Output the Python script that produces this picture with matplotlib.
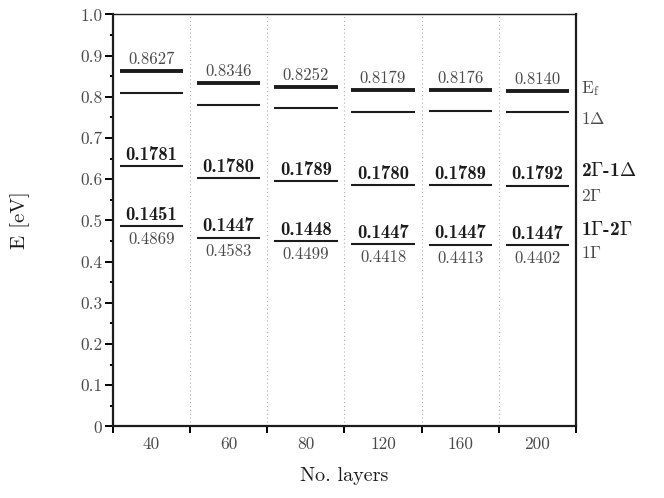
import numpy as np
import matplotlib
matplotlib.use("Agg")
import matplotlib.pyplot as plt
from matplotlib.ticker import MultipleLocator, FuncFormatter
import matplotlib.transforms as mtransforms

# --- data ---
layers = ["40", "60", "80", "120", "160", "200"]
e_fermi = [0.8627, 0.8346, 0.8252, 0.8179, 0.8176, 0.8140]
e_1delta = [0.8101, 0.7810, 0.7736, 0.7645, 0.7649, 0.7641]
e_2gamma = [0.6320, 0.6030, 0.5947, 0.5865, 0.5860, 0.5849]
e_1gamma = [0.4869, 0.4583, 0.4499, 0.4418, 0.4413, 0.4402]
gap_2g_1d = [0.1781, 0.1780, 0.1789, 0.1780, 0.1789, 0.1792]
gap_1g_2g = [0.1451, 0.1447, 0.1448, 0.1447, 0.1447, 0.1447]

# right-hand level names and where their baselines sit (data units)
side_names = [r"E$_\mathrm{f}$", r"1$\Delta$", r"2$\Gamma$-1$\Delta$", r"2$\Gamma$", r"1$\Gamma$-2$\Gamma$", r"1$\Gamma$"]
side_y = [0.809, 0.734, 0.608, 0.548, 0.465, 0.408]
side_bold = [False, False, True, False, True, False]

plt.rcParams["font.family"] = "serif"
plt.rcParams["font.serif"] = ["cmr10"]
plt.rcParams["mathtext.fontset"] = "cm"
plt.rcParams["axes.unicode_minus"] = False
plt.rcParams["axes.formatter.use_mathtext"] = True

line_col = "#1c1c1c"
grey_txt = "#4a4a4a"
dark_txt = "#1c1c1c"

fig = plt.figure(figsize=(6.64, 4.98), dpi=100)
ax = fig.add_axes([0.170, 0.1436, 0.6975, 0.8273])

half = 0.41
for i in range(len(layers)):
    c = i + 0.5
    ax.hlines(e_fermi[i], c - half, c + half, color=line_col, lw=2.8)
    ax.hlines([e_1delta[i], e_2gamma[i], e_1gamma[i]], c - half, c + half, color=line_col, lw=1.5)
    ax.annotate(f"{e_fermi[i]:.4f}", (c, e_fermi[i]), xytext=(0, 5), textcoords="offset points",
                ha="center", va="baseline", fontsize=12, color=grey_txt)
    ax.annotate(f"{gap_2g_1d[i]:.4f}", (c, e_2gamma[i]), xytext=(0, 4.5), textcoords="offset points",
                ha="center", va="baseline", fontsize=13.5, color=dark_txt, family="cmb10")
    ax.annotate(f"{gap_1g_2g[i]:.4f}", (c, e_1gamma[i]), xytext=(0, 4.5), textcoords="offset points",
                ha="center", va="baseline", fontsize=13.5, color=dark_txt, family="cmb10")
    ax.annotate(f"{e_1gamma[i]:.4f}", (c, e_1gamma[i]), xytext=(0, -4), textcoords="offset points",
                ha="center", va="top", fontsize=12, color=grey_txt)

# level names on the right of the frame
trans = mtransforms.blended_transform_factory(ax.transAxes, ax.transData)
for name, y, bold in zip(side_names, side_y, side_bold):
    ax.text(1.011, y, name, transform=trans, ha="left", va="baseline",
            fontsize=14 if bold else 12.5,
            color=dark_txt if bold else grey_txt, family="cmb10" if bold else "cmr10",
            clip_on=False)

# dotted separators between the columns
for b in range(1, len(layers)):
    ax.axvline(b, color="#b0b0b0", lw=0.8, ls=(0, (1, 2.5)), zorder=0)

ax.set_xlim(0, len(layers))
ax.set_ylim(0, 1.0)
ax.set_xticks(np.arange(len(layers) + 1))
ax.set_xticklabels([])
ax.set_xticks(np.arange(len(layers)) + 0.5, minor=True)
ax.set_xticklabels(layers, minor=True)
ax.tick_params(axis="x", which="major", direction="out", length=5.2, width=1.4)
ax.tick_params(axis="x", which="minor", length=0, pad=7, labelsize=12.5, labelcolor=grey_txt)

ax.yaxis.set_major_locator(MultipleLocator(0.1))
ax.yaxis.set_minor_locator(MultipleLocator(0.05))
ax.yaxis.set_major_formatter(FuncFormatter(lambda v, p: "0" if abs(v) < 1e-9 else f"{v:.1f}"))
ax.tick_params(axis="y", which="major", direction="out", length=5.5, width=1.4, pad=2,
               labelsize=12.5, labelcolor=grey_txt)
ax.tick_params(axis="y", which="minor", direction="out", length=2.5, width=1.4)

for s in ["left", "bottom", "right"]:
    ax.spines[s].set_linewidth(1.6)
    ax.spines[s].set_color(line_col)
ax.spines["top"].set_linewidth(1.0)
ax.spines["top"].set_color(line_col)

ax.set_xlabel("No. layers", fontsize=14.5, color=dark_txt, labelpad=11)
ax.set_ylabel("E [eV]", fontsize=15, color=dark_txt, labelpad=36)

fig.savefig("out.png", dpi=100)
